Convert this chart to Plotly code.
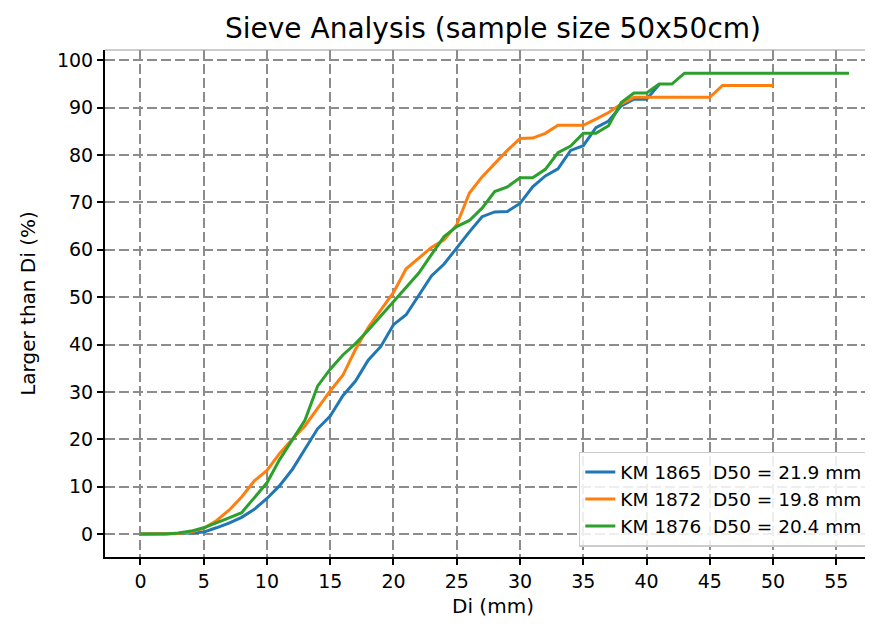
import plotly.graph_objs as go

# grain size (mm) and percentage larger than Di
di_1865 = list(range(0, 42))
pct_1865 = [0, 0, 0, 0.1, 0.2, 0.4, 1.3, 2.3, 3.5, 5.2,
            7.5, 10.2, 13.6, 17.8, 22.2, 24.9, 29.2, 32.3, 36.7, 39.6,
            44.2, 46.3, 50.3, 54.5, 57.0, 60.5, 63.8, 67.0, 68.0, 68.1,
            69.8, 73.3, 75.6, 77.1, 81.0, 82.0, 85.8, 87.2, 90.4, 91.8,
            91.8, 94.9]

di_1872 = list(range(0, 51))
pct_1872 = [0, 0, 0, 0.1, 0.4, 1.2, 2.8, 5.0, 7.8, 11.2,
            13.4, 17.0, 20.0, 22.8, 26.5, 30.2, 33.5, 39.0, 43.6, 47.3,
            51.0, 56.0, 58.2, 60.5, 62.1, 65.3, 72.0, 75.4, 78.2, 81.0,
            83.5, 83.6, 84.6, 86.3, 86.3, 86.3, 87.6, 89.0, 90.8, 92.2,
            92.2, 92.2, 92.2, 92.2, 92.2, 92.2, 94.7, 94.7, 94.7, 94.7,
            94.7]

di_1876 = list(range(0, 57))
pct_1876 = [0, 0, 0, 0.2, 0.6, 1.3, 2.3, 3.4, 4.5, 7.6,
            10.8, 15.7, 19.8, 24.0, 31.2, 34.8, 37.8, 40.2, 43.0, 46.0,
            48.9, 52.0, 55.1, 59.0, 62.8, 64.9, 66.2, 68.8, 72.3, 73.3,
            75.2, 75.2, 77.0, 80.5, 81.9, 84.6, 84.6, 86.2, 91.1, 93.1,
            93.1, 95.0, 95.0, 97.3, 97.3, 97.3, 97.3, 97.3, 97.3, 97.3,
            97.3, 97.3, 97.3, 97.3, 97.3, 97.3, 97.3]

names = ['KM 1865\u00a0 D50 = 21.9 mm',
         'KM 1872\u00a0 D50 = 19.8 mm',
         'KM 1876\u00a0 D50 = 20.4 mm']
colors = ['#1f77b4', '#ff7f0e', '#2ca02c']

x_ticks = list(range(0, 60, 5))
y_ticks = list(range(0, 110, 10))

font = 'DejaVu Sans, Liberation Sans, sans-serif'

fig = go.Figure()
for x, y, name, c in zip([di_1865, di_1872, di_1876],
                         [pct_1865, pct_1872, pct_1876], names, colors):
    fig.add_trace(go.Scatter(x=x, y=y, mode='lines', name=name,
                             line=dict(color=c, width=3)))

grid = dict(showgrid=True, gridcolor='#8c8c8c', gridwidth=1.5,
            griddash='10px,4px', zeroline=False, showline=True,
            linecolor='black', linewidth=2, ticks='outside', ticklen=6,
            tickwidth=1.5, tickcolor='black', automargin=False,
            tickfont=dict(size=19, color='black', family=font))

# the page body adds an 8px offset, margins account for it;
# the plot runs off the right edge like in the original
fig.update_layout(
    width=873, height=628,
    margin=dict(l=97, r=0, t=42, b=79),
    paper_bgcolor='white', plot_bgcolor='white',
    font=dict(family=font, color='black'),
    title=dict(text='Sieve Analysis (sample size 50x50cm)',
               x=0.5, xref='paper', y=0.968, yanchor='middle',
               font=dict(size=28, color='black', family=font),
               automargin=False),
    xaxis=dict(range=[-2.8, 58.53], tickvals=x_ticks,
               title=dict(text='Di (mm)', standoff=8,
                          font=dict(size=20, family=font)), **grid),
    yaxis=dict(range=[-4.87, 102.2], tickvals=y_ticks,
               title=dict(text='Larger than Di (%)', standoff=16,
                          font=dict(size=20, family=font)), **grid),
    legend=dict(x=0.983, y=0.02, xanchor='right', yanchor='bottom',
                bgcolor='rgba(255,255,255,0.85)', bordercolor='#cccccc',
                borderwidth=1.5, font=dict(size=18.5, family=font),
                tracegroupgap=0),
    showlegend=True,
)

# thin top spine
fig.add_shape(type='line', xref='paper', yref='paper', x0=0, x1=1,
              y0=1, y1=1, line=dict(color='#999999', width=1))

fig.write_html("out.html")
